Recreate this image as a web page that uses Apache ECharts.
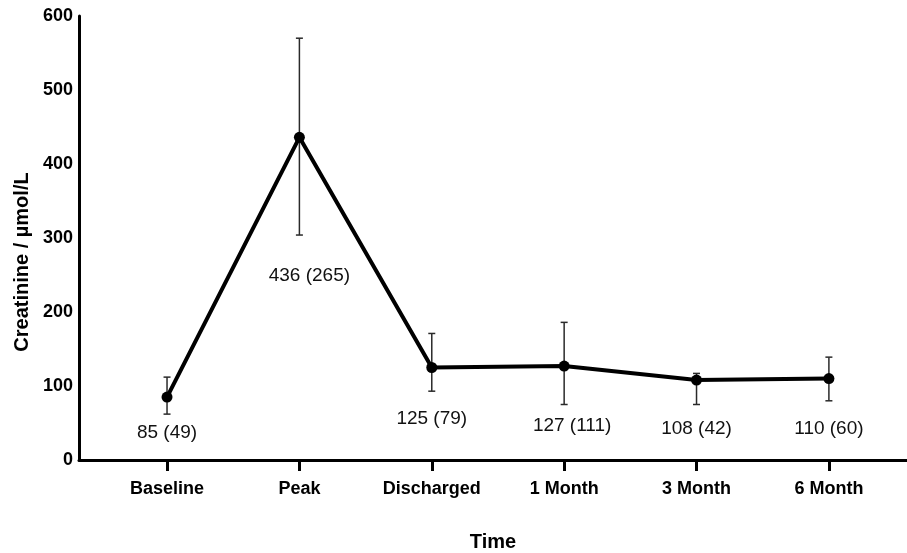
<!DOCTYPE html>
<html>
<head>
<meta charset="utf-8">
<title>Creatinine over time</title>
<script src="https://cdn.jsdelivr.net/npm/echarts@6/dist/echarts.min.js"></script>
<style>
  html, body { margin: 0; padding: 0; background: #fff; }
  #chart { width: 907px; height: 553px; }
</style>
</head>
<body>
<div id="chart"></div>
<script>
// Time points
const categories = ['Baseline', 'Peak', 'Discharged', '1 Month', '3 Month', '6 Month'];
// Median creatinine (µmol/L) at each time point
const medians = [85, 436, 125, 127, 108, 110];
// Spread shown in brackets next to each median
const spreads = [49, 265, 79, 111, 42, 60];
// Whisker ends
const whiskerLow = [62, 304, 93, 75, 75, 80];
const whiskerHigh = [112, 570, 171, 186, 117, 139];
// Y axis ticks
const yTicks = [0, 100, 200, 300, 400, 500, 600];

// Label placement relative to each point, in pixels [dx, dy]
const labelShift = [[0, 36], [10, 138], [0, 51], [8, 60], [0, 49], [0, 50]];

const FONT = "'Liberation Sans', Arial, Helvetica, sans-serif";
const idx = categories.map((_, i) => i);

const chart = echarts.init(document.getElementById('chart'));

chart.setOption({
  animation: false,
  backgroundColor: '#ffffff',
  textStyle: { fontFamily: FONT, color: '#000' },
  grid: { left: 79, right: 0, top: 16, bottom: 93, containLabel: false, outerBoundsMode: 'none' },
  xAxis: {
    type: 'value',
    min: -0.665,
    max: 5.59,
    name: 'Time',
    nameLocation: 'middle',
    nameGap: 72,
    nameTextStyle: { fontFamily: FONT, fontWeight: 'bold', fontSize: 20, color: '#000' },
    axisLine: { show: true, onZero: false, lineStyle: { color: '#000', width: 3 } },
    axisTick: { show: true, customValues: idx, length: 11, lineStyle: { color: '#000', width: 3 } },
    axisLabel: {
      customValues: idx,
      margin: 20,
      fontFamily: FONT, fontWeight: 'bold', fontSize: 18, color: '#000',
      formatter: v => categories[Math.round(v)]
    },
    splitLine: { show: false }
  },
  yAxis: {
    type: 'value',
    min: yTicks[0],
    max: yTicks[yTicks.length - 1],
    interval: yTicks[1] - yTicks[0],
    name: 'Creatinine / µmol/L',
    nameLocation: 'middle',
    nameGap: 47,
    nameRotate: 90,
    nameTextStyle: { fontFamily: FONT, fontWeight: 'bold', fontSize: 20, color: '#000', padding: [0, 48, 0, 0] },
    axisLine: { show: true, onZero: false, lineStyle: { color: '#000', width: 3 } },
    axisTick: { show: false },
    axisLabel: { margin: 6, fontFamily: FONT, fontWeight: 'bold', fontSize: 18, color: '#000' },
    splitLine: { show: false }
  },
  series: [
    {
      // whiskers with end caps
      type: 'custom',
      z: 1,
      data: idx.map(i => [i, whiskerLow[i], whiskerHigh[i]]),
      renderItem: function (params, api) {
        const x = api.value(0);
        const lo = api.coord([x, api.value(1)]);
        const hi = api.coord([x, api.value(2)]);
        const cap = 3.5;
        const style = { stroke: '#2a2a2a', lineWidth: 1.5 };
        return {
          type: 'group',
          children: [
            { type: 'line', shape: { x1: lo[0], y1: lo[1], x2: hi[0], y2: hi[1] }, style: style },
            { type: 'line', shape: { x1: hi[0] - cap, y1: hi[1], x2: hi[0] + cap, y2: hi[1] }, style: style },
            { type: 'line', shape: { x1: lo[0] - cap, y1: lo[1], x2: lo[0] + cap, y2: lo[1] }, style: style }
          ]
        };
      }
    },
    {
      type: 'line',
      z: 2,
      symbol: 'circle',
      symbolSize: 11,
      lineStyle: { color: '#000', width: 4 },
      itemStyle: { color: '#000' },
      data: idx.map(i => ({
        value: [i, medians[i]],
        label: { offset: labelShift[i] }
      })),
      label: {
        show: true,
        position: 'inside',
        fontFamily: FONT,
        fontSize: 19,
        color: '#111',
        formatter: p => medians[p.dataIndex] + ' (' + spreads[p.dataIndex] + ')'
      }
    }
  ]
});
</script>
</body>
</html>
